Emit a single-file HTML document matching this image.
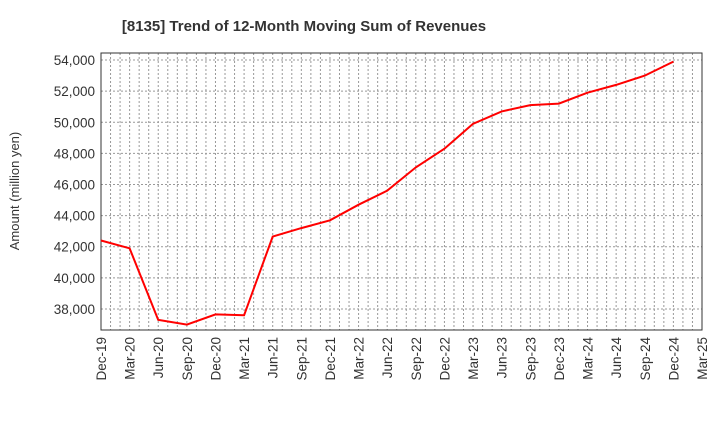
<!DOCTYPE html>
<html><head><meta charset="utf-8"><style>
body{margin:0;background:#fff;font-family:"Liberation Sans",sans-serif}
</style></head><body>
<svg id="chart" width="720" height="440" xmlns="http://www.w3.org/2000/svg">
<text x="304" y="31" text-anchor="middle" font-size="15" font-weight="bold" fill="#333">[8135]  Trend of 12-Month Moving Sum of Revenues</text>
<text transform="translate(19,191) rotate(-90)" text-anchor="middle" font-size="13" fill="#333">Amount (million yen)</text>
<g id="grid"></g><g id="axes"></g><g id="series"></g>
</svg>
<script>
const categories=["Dec-19","Mar-20","Jun-20","Sep-20","Dec-20","Mar-21","Jun-21","Sep-21","Dec-21","Mar-22","Jun-22","Sep-22","Dec-22","Mar-23","Jun-23","Sep-23","Dec-23","Mar-24","Jun-24","Sep-24","Dec-24","Mar-25"];
const revenues=[42400,41900,37300,37000,37650,37600,42650,43200,43700,44700,45600,47100,48300,49900,50700,51100,51200,51900,52400,53000,53900];
const yTicks=[38000,40000,42000,44000,46000,48000,50000,52000,54000];
const L=101,R=702,T=53,B=330,yMin=36650,yMax=54450;
const nq=categories.length-1;
const x=i=>L+(R-L)*i/nq;
const y=v=>B-(B-T)*(v-yMin)/(yMax-yMin);
const NS="http://www.w3.org/2000/svg";
function mk(tag,attrs,parent,text){const e=document.createElementNS(NS,tag);for(const k in attrs)e.setAttribute(k,attrs[k]);if(text!==undefined)e.textContent=text;document.getElementById(parent).appendChild(e);return e;}
for(let m=1;m<nq*3;m++){const xx=L+(R-L)*m/(nq*3);
const g=mk('line',{x1:xx,x2:xx,y1:T,y2:B,stroke:'#999','stroke-width':1,'stroke-dasharray':'2,2'},'grid');

}
yTicks.forEach(v=>{const yy=y(v);
const g=mk('line',{x1:L,x2:R,y1:yy,y2:yy,stroke:'#999','stroke-width':1,'stroke-dasharray':'2,2'},'grid');


const t=mk('text',{x:L-6,y:yy+5,'text-anchor':'end','font-size':13.5,fill:'#333'},'axes',v.toLocaleString('en-US'));

});
categories.forEach((c,i)=>{const xx=x(i);
const t=mk('text',{transform:`translate(${xx+5},${B+7}) rotate(-90)`,'text-anchor':'end','font-size':13.5,fill:'#333'},'axes',c);

});
const fr=mk('rect',{x:L,y:T,width:R-L,height:B-T,fill:'none',stroke:'#333','stroke-width':1},'axes');


const pts=revenues.map((v,i)=>x(i).toFixed(1)+','+y(v).toFixed(1)).join(' ');
const pl=mk('polyline',{points:pts,fill:'none',stroke:'#f00','stroke-width':2},'series');


</script>
</body></html>
